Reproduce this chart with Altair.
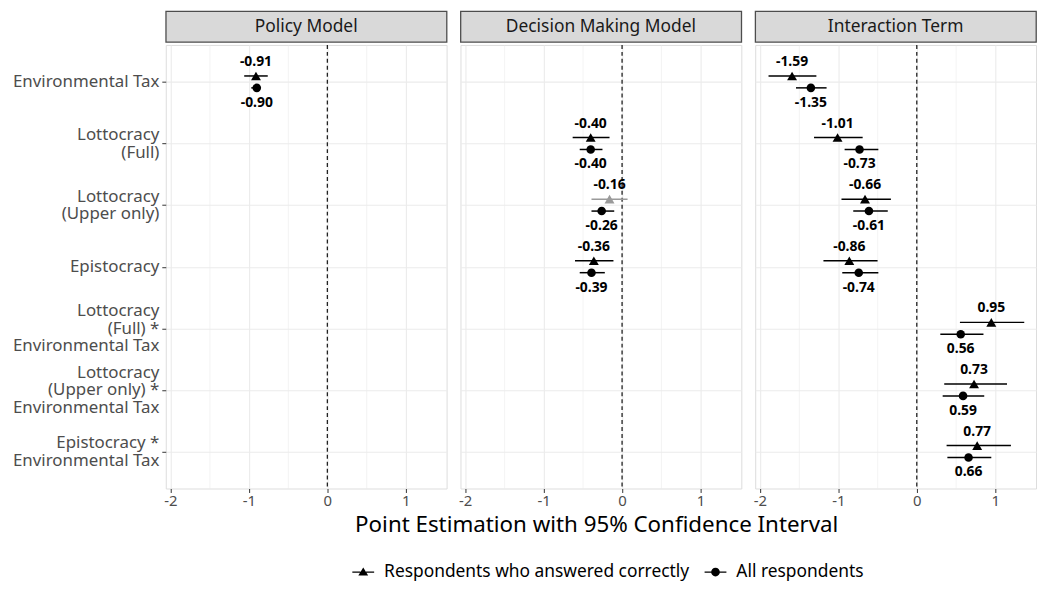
import altair as alt
import pandas as pd

FONT = "Noto Sans"

categories = [
    "Environmental Tax",
    "Lottocracy|(Full)",
    "Lottocracy|(Upper only)",
    "Epistocracy",
    "Lottocracy|(Full) *|Environmental Tax",
    "Lottocracy|(Upper only) *|Environmental Tax",
    "Epistocracy *|Environmental Tax",
]
panels = ["Policy Model", "Decision Making Model", "Interaction Term"]
series = ["Respondents who answered correctly", "All respondents"]
x_title = "Point Estimation with 95% Confidence Interval"

# Policy Model
policy_terms = [categories[0]]
policy_tri_est = [-0.91]
policy_tri_lo = [-1.06]
policy_tri_hi = [-0.76]
policy_cir_est = [-0.90]
policy_cir_lo = [-0.97]
policy_cir_hi = [-0.85]

# Decision Making Model
decision_terms = categories[1:4]
decision_tri_est = [-0.40, -0.16, -0.36]
decision_tri_lo = [-0.63, -0.39, -0.60]
decision_tri_hi = [-0.16, 0.07, -0.11]
decision_cir_est = [-0.40, -0.26, -0.39]
decision_cir_lo = [-0.54, -0.39, -0.54]
decision_cir_hi = [-0.25, -0.10, -0.22]

# Interaction Term
inter_terms = categories
inter_tri_est = [-1.59, -1.01, -0.66, -0.86, 0.95, 0.73, 0.77]
inter_tri_lo = [-1.89, -1.31, -0.96, -1.19, 0.55, 0.35, 0.38]
inter_tri_hi = [-1.28, -0.69, -0.33, -0.50, 1.37, 1.15, 1.20]
inter_cir_est = [-1.35, -0.73, -0.61, -0.74, 0.56, 0.59, 0.66]
inter_cir_lo = [-1.54, -0.92, -0.81, -0.95, 0.30, 0.33, 0.39]
inter_cir_hi = [-1.15, -0.49, -0.37, -0.49, 0.85, 0.86, 0.95]

x_ticks = [-2, -1.5, -1, -0.5, 0, 0.5, 1]
x_domain = [-2.06, 1.52]

rows = []
def add(panel, terms, tri, trilo, trihi, cir, cirlo, cirhi):
    for i, t in enumerate(terms):
        for s, e, lo, hi in [(series[0], tri[i], trilo[i], trihi[i]),
                             (series[1], cir[i], cirlo[i], cirhi[i])]:
            rows.append(dict(panel=panel, term=t, series=s, est=e, lo=lo, hi=hi,
                             label=f"{e:.2f}",
                             sig="ns" if (lo < 0 < hi) else "sig"))

add(panels[0], policy_terms, policy_tri_est, policy_tri_lo, policy_tri_hi,
    policy_cir_est, policy_cir_lo, policy_cir_hi)
add(panels[1], decision_terms, decision_tri_est, decision_tri_lo, decision_tri_hi,
    decision_cir_est, decision_cir_lo, decision_cir_hi)
add(panels[2], inter_terms, inter_tri_est, inter_tri_lo, inter_tri_hi,
    inter_cir_est, inter_cir_lo, inter_cir_hi)
df = pd.DataFrame(rows)

W = 283
H = 447
STRIP_H = 31

xscale = alt.Scale(domain=x_domain, nice=False, zero=False)
yscale = alt.Scale(domain=categories, type="point", padding=0.6)
colscale = alt.Scale(domain=["sig", "ns"], range=["#000000", "#9a9a9a"])

minor_test = "datum.value % 1 !== 0"

xaxis = alt.Axis(
    title=None,
    values=x_ticks,
    labelExpr="datum.value % 1 === 0 ? '' + datum.value : ''",
    grid=True,
    gridColor="#EBEBEB",
    gridWidth={"condition": {"test": minor_test, "value": 0.6}, "value": 1.1},
    tickOpacity={"condition": {"test": minor_test, "value": 0}, "value": 1},
    tickColor="#333333",
    tickSize=4,
    labelFont=FONT,
    labelFontSize=15,
    labelColor="#4D4D4D",
    labelPadding=1,
    domain=False,
)

nlines = "length(split(datum.label, '|'))"
yaxis_main = alt.Axis(
    title=None,
    labelExpr="split(datum.label, '|')",
    labelFont=FONT,
    labelFontSize=17,
    labelColor="#4D4D4D",
    labelLineHeight=17.5,
    labelLimit=400,
    labelPadding=3,
    labelOffset={"condition": [
        {"test": nlines + " === 3", "value": -17.5},
        {"test": nlines + " === 2", "value": -8.75},
    ], "value": 0},
    tickSize=4,
    tickColor="#333333",
    grid=True,
    gridColor="#EBEBEB",
    gridWidth=1.1,
    domain=False,
)
yaxis_blank = alt.Axis(title=None, labels=False, ticks=False, domain=False,
                       grid=True, gridColor="#EBEBEB", gridWidth=1.1)

# legend keys: marker with a horizontal bar through it (fill-only paths)
TRI_PATH = ("M-1,-0.065H-0.26V0.065H-1Z"
            "M0.26,-0.065H1V0.065H0.26Z"
            "M-0.45,0.32L0,-0.42L0.45,0.32Z")
CIR_PATH = ("M-1,-0.065H-0.38V0.065H-1Z"
            "M0.38,-0.065H1V0.065H0.38Z"
            "M0.4,0A0.4,0.4,0,1,1,-0.4,0A0.4,0.4,0,1,1,0.4,0Z")


def panel_body(idx):
    pname = panels[idx]
    ya = yaxis_main if idx == 0 else yaxis_blank
    d = df[df.panel == pname]
    base = alt.Chart(d)
    Y = alt.Y("term:N", scale=yscale, axis=ya, title=None)
    X = lambda f: alt.X(f, scale=xscale, axis=xaxis, title=None)
    layers = []
    zero = alt.Chart(pd.DataFrame({"z": [0]})).mark_rule(
        strokeDash=[4, 3], color="#222222", strokeWidth=1.3
    ).encode(x=X("z:Q"))
    layers.append(zero)
    for s, off, shape, size, loff in [(series[0], -6, "triangle-up", 100, -20),
                                      (series[1], 6, "circle", 75, 21)]:
        b = base.transform_filter(alt.datum.series == s)
        C = alt.Color("sig:N", scale=colscale, legend=None)
        rule = b.mark_rule(strokeWidth=1.5, yOffset=off).encode(
            x=X("lo:Q"), x2="hi:Q", y=Y, color=C)
        pt = b.mark_point(shape=shape, filled=True, size=size, yOffset=off, opacity=1).encode(
            x=X("est:Q"), y=Y, color=C)
        txt = b.mark_text(yOffset=loff, font=FONT, fontSize=14, fontWeight="bold",
                          color="#000000").encode(
            x=X("est:Q"), y=Y, text="label:N")
        layers += [rule, pt, txt]
    if idx == 1:
        leg = alt.Chart(df).transform_filter("false").mark_point(
            filled=True, opacity=1, color="#000000"
        ).encode(
            x=X("est:Q"),
            y=Y,
            shape=alt.Shape("series:N",
                            scale=alt.Scale(domain=series, range=[TRI_PATH, CIR_PATH]),
                            legend=alt.Legend(
                                title=None, orient="none", direction="horizontal",
                                legendX=187, legendY=553, padding=0,
                                labelFont=FONT, labelFontSize=17.5, labelColor="#000000",
                                labelLimit=500,
                                symbolSize=484, symbolFillColor="#000000",
                                symbolOpacity=1, columnPadding=12, labelOffset=9,
                            )),
        )
        layers.append(leg)
    return alt.layer(*layers).properties(width=W, height=H)


def strip(idx):
    return alt.Chart(pd.DataFrame({"panel": [panels[idx]]})).mark_text(
        font=FONT, fontSize=17.5, color="#1A1A1A"
    ).encode(text="panel:N").properties(
        width=W, height=STRIP_H,
        view=alt.ViewBackground(fill="#D9D9D9", stroke="#4D4D4D", strokeWidth=1.3),
    )


cols = [alt.vconcat(strip(i), panel_body(i), spacing=0) for i in range(3)]
chart = alt.hconcat(*cols, spacing=10).properties(
    padding={"left": 3, "top": 0, "right": 1, "bottom": 1},
    title=alt.TitleParams(
        text=x_title, orient="bottom", anchor="middle", dx=73, offset=-67,
        font=FONT, fontSize=22.5, fontWeight="normal", color="#000000",
    ),
).configure_view(stroke="#4D4D4D", strokeWidth=1.3).configure(
    font=FONT
)

chart.save("out.html", embed_options={"renderer": "svg", "actions": False})
